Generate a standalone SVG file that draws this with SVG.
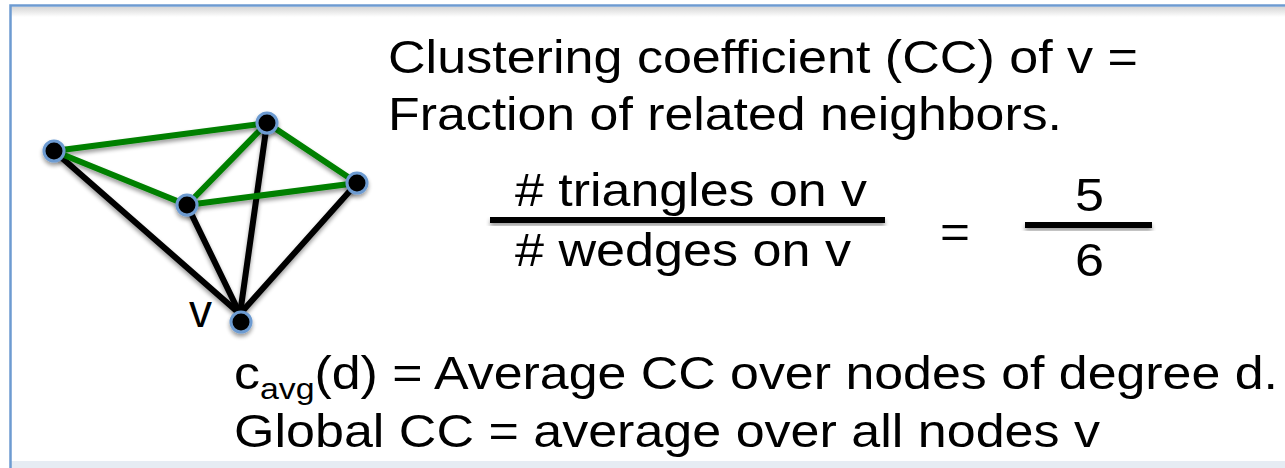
<svg xmlns="http://www.w3.org/2000/svg" width="1285" height="468" viewBox="0 0 1285 468">
  <defs>
    <filter id="shadow" x="-50%" y="-50%" width="200%" height="200%">
      <feGaussianBlur in="SourceAlpha" stdDeviation="2"/>
      <feOffset dx="0" dy="3" result="b"/>
      <feComponentTransfer><feFuncA type="linear" slope="0.4"/></feComponentTransfer>
      <feMerge><feMergeNode/><feMergeNode in="SourceGraphic"/></feMerge>
    </filter>
    <linearGradient id="topShade" x1="0" y1="0" x2="0" y2="1">
      <stop offset="0" stop-color="#d6d6d6"/>
      <stop offset="1" stop-color="#ffffff"/>
    </linearGradient>
  </defs>
  <style>
    .t { font-family: "Liberation Sans", Arial, sans-serif; fill: #000; font-size: 46px; }
    .green { stroke: #008000; stroke-width: 6; stroke-linecap: round; fill: none; }
    .black { stroke: #000; stroke-width: 6; stroke-linecap: round; fill: none; }
    .node { fill: #000; stroke: #6d9bd1; stroke-width: 3; }
  </style>

  <!-- background and frame -->
  <rect x="0" y="0" width="1285" height="468" fill="#ffffff"/>
  <rect x="11" y="7" width="1274" height="10" fill="url(#topShade)"/>
  <rect x="11" y="461" width="1274" height="7" fill="#e6ecf3"/>
  <path d="M10.5 468 V5.5 H1285" fill="none" stroke="#6d9bd1" stroke-width="2.5"/>

  <!-- connectors -->
  <g id="edges" filter="url(#shadow)">
    <line class="black" x1="54" y1="151" x2="240" y2="314"/>
    <line class="black" x1="187" y1="205" x2="240" y2="314"/>
    <line class="black" x1="267" y1="123" x2="240" y2="314"/>
    <line class="black" x1="357" y1="183" x2="240" y2="314"/>
    <line class="green" x1="54" y1="151" x2="267" y2="123"/>
    <line class="green" x1="54" y1="151" x2="187" y2="205"/>
    <line class="green" x1="187" y1="205" x2="267" y2="123"/>
    <line class="green" x1="267" y1="123" x2="357" y2="183"/>
    <line class="green" x1="187" y1="205" x2="357" y2="183"/>
  </g>

  <!-- nodes -->
  <g id="node-a" filter="url(#shadow)"><circle class="node" cx="54" cy="151" r="10"/></g>
  <g id="node-b" filter="url(#shadow)"><circle class="node" cx="267" cy="123" r="10"/></g>
  <g id="node-c" filter="url(#shadow)"><circle class="node" cx="187" cy="205" r="10"/></g>
  <g id="node-d" filter="url(#shadow)"><circle class="node" cx="357" cy="183" r="10"/></g>
  <g id="node-v" filter="url(#shadow)"><circle class="node" cx="241" cy="322" r="10"/></g>
  <text class="t" x="189" y="327" font-size="34">v</text>

  <!-- definition -->
  <g id="definition">
    <text class="t" x="388" y="73" textLength="750" lengthAdjust="spacingAndGlyphs">Clustering coefficient (CC) of v =</text>
    <text class="t" x="388" y="130" textLength="674" lengthAdjust="spacingAndGlyphs">Fraction of related neighbors.</text>
  </g>

  <!-- ratio -->
  <g id="ratio">
    <text class="t" x="515" y="206" textLength="352" lengthAdjust="spacingAndGlyphs">#&#160;triangles on v</text>
    <rect x="490" y="217" width="395" height="6" fill="#000" filter="url(#shadow)"/>
    <text class="t" x="515" y="266" textLength="336" lengthAdjust="spacingAndGlyphs">#&#160;wedges on v</text>
    <text class="t" x="940" y="248" textLength="30" lengthAdjust="spacingAndGlyphs">=</text>
    <text class="t" x="1075" y="211" textLength="29" lengthAdjust="spacingAndGlyphs">5</text>
    <rect x="1025" y="222" width="127" height="6" fill="#000" filter="url(#shadow)"/>
    <text class="t" x="1075" y="276" textLength="29" lengthAdjust="spacingAndGlyphs">6</text>
  </g>

  <!-- averages -->
  <g id="averages">
    <text class="t" x="234" y="389" textLength="1044" lengthAdjust="spacingAndGlyphs">c<tspan font-size="30" dy="10">avg</tspan><tspan dy="-10">(d) = Average CC over nodes of degree d.</tspan></text>
    <text class="t" x="234" y="447" textLength="866" lengthAdjust="spacingAndGlyphs">Global CC = average over all nodes v</text>
  </g>
</svg>
